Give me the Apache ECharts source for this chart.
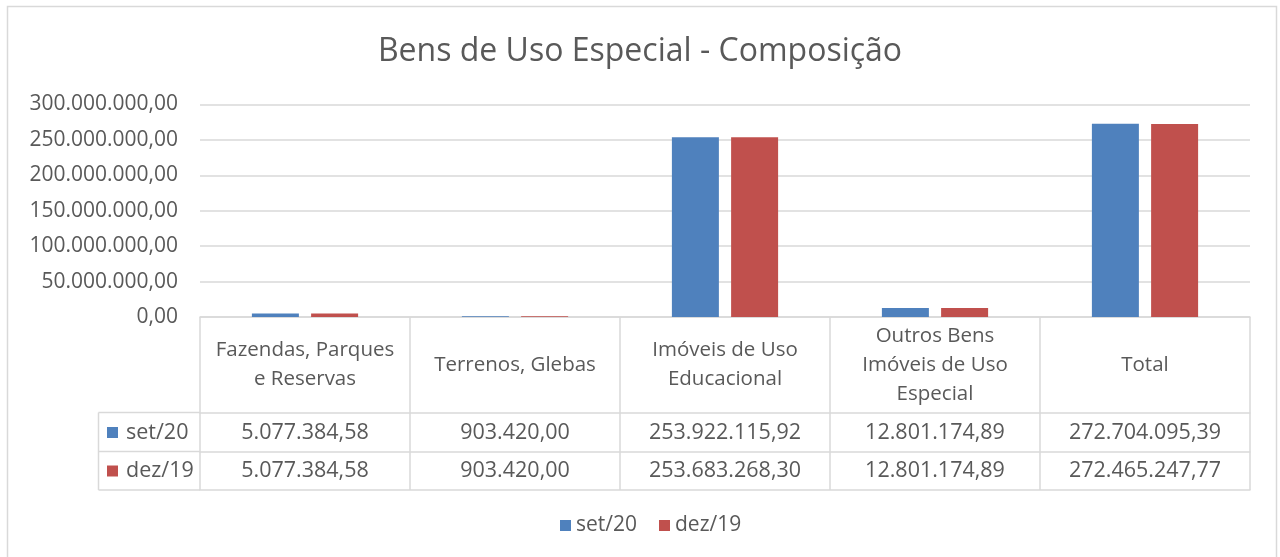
<!DOCTYPE html>
<html>
<head>
<meta charset="utf-8">
<script src="https://cdn.jsdelivr.net/npm/echarts@6/dist/echarts.min.js"></script>
<style>
html,body{margin:0;padding:0;background:#fff;}
#c{width:1280px;height:557px;}
</style>
</head>
<body>
<div id="c"></div>
<script>
const title = 'Bens de Uso Especial - Composição';
const categories = ['Fazendas, Parques\ne Reservas', 'Terrenos, Glebas', 'Imóveis de Uso\nEducacional', 'Outros Bens\nImóveis de Uso\nEspecial', 'Total'];
const seriesNames = ['set/20', 'dez/19'];
const set20 = [5077384.58, 903420.00, 253922115.92, 12801174.89, 272704095.39];
const dez19 = [5077384.58, 903420.00, 253683268.30, 12801174.89, 272465247.77];
const yTicks = { min: 0, max: 300000000, interval: 50000000 };

const colors = ['#4f81bd', '#c0504d'];
const textColor = '#595959';
const lineColor = '#d9d9d9';
const font = '"Open Sans", "Noto Sans", sans-serif';

function fmt(v) {
  const s = v.toFixed(2);
  const parts = s.split('.');
  return parts[0].replace(/\B(?=(\d{3})+(?!\d))/g, '.') + ',' + parts[1];
}

const chart = echarts.init(document.getElementById('c'));

function rowAxis(offset, vals, margin) {
  return {
    type: 'category',
    data: categories,
    position: 'bottom',
    offset: offset,
    axisLine: { show: true, lineStyle: { color: lineColor, width: 1.5 } },
    axisTick: { show: false },
    axisLabel: {
      show: !!vals,
      interval: 0,
      margin: margin,
      verticalAlign: 'middle',
      color: textColor,
      fontFamily: font,
      fontSize: 21.5,
      formatter: function (v, i) { return vals ? fmt(vals[i]) : ''; }
    },
    splitLine: { show: false }
  };
}

const option = {
  backgroundColor: '#fff',
  animation: false,
  color: colors,
  title: {
    text: title,
    left: 'center',
    top: 31,
    textStyle: { color: textColor, fontFamily: font, fontSize: 32, fontWeight: 'normal' }
  },
  legend: {
    bottom: 16,
    left: 555,
    icon: 'rect',
    itemWidth: 11,
    itemHeight: 11,
    itemGap: 22,
    textStyle: { color: textColor, fontFamily: font, fontSize: 21 },
    data: seriesNames
  },
  grid: { left: 200, right: 30, top: 104.5, bottom: 240, containLabel: false },
  xAxis: [
    {
      type: 'category',
      data: categories,
      position: 'bottom',
      axisLine: { show: true, lineStyle: { color: lineColor, width: 1.5 } },
      axisTick: { show: true, length: 173, alignWithLabel: false, lineStyle: { color: lineColor, width: 1.5 } },
      axisLabel: {
        interval: 0,
        margin: 48,
        verticalAlign: 'middle',
        color: textColor,
        fontFamily: font,
        fontSize: 20.5,
        lineHeight: 29,
        align: 'center'
      }
    },
    rowAxis(95.5, set20, 20),
    rowAxis(134.5, dez19, 19.5),
    rowAxis(173, null, 10)
  ],
  yAxis: {
    type: 'value',
    min: yTicks.min,
    max: yTicks.max,
    interval: yTicks.interval,
    axisLine: { show: false },
    axisTick: { show: false },
    axisLabel: {
      margin: 22,
      color: textColor,
      fontFamily: font,
      fontSize: 21,
      formatter: function (v) { return fmt(v); }
    },
    splitLine: { lineStyle: { color: lineColor, width: 1.5 } }
  },
  series: [
    { name: seriesNames[0], type: 'bar', data: set20, xAxisIndex: 0, barWidth: 47, barGap: '26%' },
    { name: seriesNames[1], type: 'bar', data: dez19, xAxisIndex: 0, barWidth: 47, barGap: '26%' }
  ],
  graphic: [
    { type: 'rect', shape: { x: 7.5, y: 6.5, width: 1269, height: 570 }, style: { fill: 'none', stroke: lineColor, lineWidth: 1.5 }, silent: true, z: -1 },
    { type: 'line', shape: { x1: 98.5, y1: 412.5, x2: 200, y2: 412.5 }, style: { stroke: lineColor, lineWidth: 1.5 } },
    { type: 'line', shape: { x1: 98.5, y1: 451.5, x2: 200, y2: 451.5 }, style: { stroke: lineColor, lineWidth: 1.5 } },
    { type: 'line', shape: { x1: 98.5, y1: 490, x2: 200, y2: 490 }, style: { stroke: lineColor, lineWidth: 1.5 } },
    { type: 'line', shape: { x1: 98.5, y1: 412.5, x2: 98.5, y2: 490 }, style: { stroke: lineColor, lineWidth: 1.5 } },
    { type: 'rect', shape: { x: 107, y: 427, width: 11, height: 11 }, style: { fill: colors[0] } },
    { type: 'text', x: 126, y: 432.5, style: { text: seriesNames[0], fill: textColor, font: '21.5px ' + font, textVerticalAlign: 'middle', verticalAlign: 'middle' } },
    { type: 'rect', shape: { x: 107, y: 465.5, width: 11, height: 11 }, style: { fill: colors[1] } },
    { type: 'text', x: 126, y: 471, style: { text: seriesNames[1], fill: textColor, font: '21.5px ' + font, textVerticalAlign: 'middle', verticalAlign: 'middle' } }
  ]
};
chart.setOption(option);
</script>
</body>
</html>
